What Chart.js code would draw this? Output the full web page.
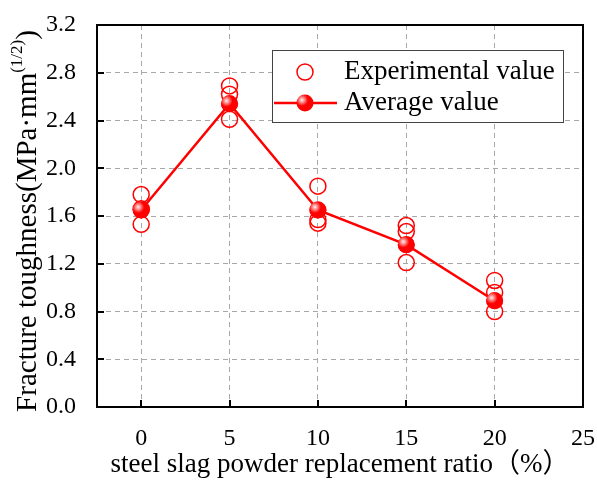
<!DOCTYPE html>
<html>
<head>
<meta charset="utf-8">
<script src="https://cdn.jsdelivr.net/npm/chart.js@4"></script>
<style>
  body { margin: 0; background: #fff; }
  #wrap { width: 597px; height: 480px; }
</style>
</head>
<body>
<div id="wrap"><canvas id="myChart" width="597" height="480"></canvas></div>
<script>
// replacement ratio (%) of steel slag powder
var ratios = [0, 5, 10, 15, 20];
// three specimens per ratio
var trial1 = [1.78, 2.69, 1.85, 1.52, 1.06];
var trial2 = [1.66, 2.62, 1.57, 1.47, 0.96];
var trial3 = [1.53, 2.41, 1.54, 1.21, 0.80];
var averages = [1.65, 2.54, 1.65, 1.36, 0.89];
var yTicks = [0, 0.4, 0.8, 1.2, 1.6, 2.0, 2.4, 2.8, 3.2];
var xTicks = [0, 5, 10, 15, 20, 25];

var serif = "'Liberation Serif', 'Noto Sans CJK SC', serif";
var red = "#ff0000";

var expPoints = [];
ratios.forEach(function(r, i) {
  expPoints.push({ x: r, y: trial1[i] });
  expPoints.push({ x: r, y: trial2[i] });
  expPoints.push({ x: r, y: trial3[i] });
});
var avgPoints = ratios.map(function(r, i) {
  return { x: r, y: averages[i] };
});

function shinyBall(ctx, x, y, r) {
  ctx.save();
  ctx.beginPath();
  ctx.arc(x, y, r, 0, Math.PI * 2);
  ctx.fillStyle = red;
  ctx.fill();
  var g = ctx.createRadialGradient(x - r * 0.35, y - r * 0.35, 0, x - r * 0.35, y - r * 0.35, r * 0.7);
  g.addColorStop(0, "rgba(255,255,255,0.95)");
  g.addColorStop(1, "rgba(255,255,255,0)");
  ctx.fillStyle = g;
  ctx.fill();
  ctx.restore();
}

var framePlugin = {
  id: "frame",
  afterDatasetsDraw: function(chart) {
    var ctx = chart.ctx;
    var meta = chart.getDatasetMeta(1);
    meta.data.forEach(function(pt) {
      shinyBall(ctx, pt.x, pt.y, 8.5);
    });
  },
  afterDraw: function(chart) {
    var ctx = chart.ctx;
    var a = chart.chartArea;
    var xs = chart.scales.x, ys = chart.scales.y;
    ctx.save();
    // box
    ctx.strokeStyle = "#000";
    ctx.lineWidth = 2;
    ctx.strokeRect(a.left, a.top, a.right - a.left, a.bottom - a.top);
    // inward ticks
    ctx.beginPath();
    xTicks.forEach(function(v) {
      var px = Math.round(xs.getPixelForValue(v));
      ctx.moveTo(px, a.bottom);
      ctx.lineTo(px, a.bottom - 7);
    });
    yTicks.forEach(function(v) {
      var py = Math.round(ys.getPixelForValue(v));
      ctx.moveTo(a.left, py);
      ctx.lineTo(a.left + 7, py);
    });
    ctx.stroke();

    // legend
    var lx = 272, ly = 50, lw = 291, lh = 72;
    ctx.fillStyle = "#fff";
    ctx.fillRect(lx, ly, lw, lh);
    ctx.strokeStyle = "#444";
    ctx.lineWidth = 1;
    ctx.strokeRect(lx + 0.5, ly + 0.5, lw, lh);
    ctx.strokeStyle = red;
    ctx.lineWidth = 1.5;
    ctx.beginPath();
    ctx.arc(305, 72, 8, 0, Math.PI * 2);
    ctx.stroke();
    ctx.lineWidth = 2.5;
    ctx.beginPath();
    ctx.moveTo(274, 103);
    ctx.lineTo(337, 103);
    ctx.stroke();
    shinyBall(ctx, 305, 103, 8.5);
    ctx.fillStyle = "#000";
    ctx.font = "27px " + serif;
    ctx.textBaseline = "middle";
    ctx.textAlign = "left";
    ctx.fillText("Experimental value", 344, 72);
    ctx.fillText("Average value", 344, 103);

    // y title with superscript
    var main = "Fracture toughness(MPa\u00b7mm";
    var sup = "(1/2)";
    var close = ")";
    var bigF = "29px " + serif, smallF = "17px " + serif;
    ctx.font = bigF;
    var w1 = ctx.measureText(main).width;
    var w3 = ctx.measureText(close).width;
    ctx.font = smallF;
    var w2 = ctx.measureText(sup).width;
    var total = w1 + w2 + w3;
    ctx.translate(28, 221);
    ctx.rotate(-Math.PI / 2);
    var sx = -total / 2;
    ctx.font = bigF;
    ctx.fillText(main, sx, 0);
    ctx.font = smallF;
    ctx.fillText(sup, sx + w1, -10);
    ctx.font = bigF;
    ctx.fillText(close, sx + w1 + w2, 0);
    ctx.restore();
  }
};

new Chart(document.getElementById("myChart"), {
  type: "scatter",
  data: {
    datasets: [
      {
        label: "Experimental value",
        data: expPoints,
        order: 2,
        showLine: false,
        pointStyle: "circle",
        pointRadius: 8,
        pointHoverRadius: 8,
        pointBorderWidth: 1.5,
        pointBorderColor: red,
        pointBackgroundColor: "rgba(255,255,255,0)"
      },
      {
        label: "Average value",
        data: avgPoints,
        order: 1,
        showLine: true,
        borderColor: red,
        borderWidth: 2.5,
        pointRadius: 8.5,
        pointHoverRadius: 8.5,
        pointBorderWidth: 0,
        pointBackgroundColor: red
      }
    ]
  },
  options: {
    responsive: false,
    animation: false,
    layout: { padding: { top: 25, right: 14, left: 0, bottom: 0 } },
    plugins: {
      legend: { display: false },
      tooltip: { enabled: false }
    },
    scales: {
      x: {
        type: "linear",
        min: -2.5,
        max: 25,
        afterFit: function(s) {
          s.height = 73;
          s.paddingLeft = 0;
          s.paddingRight = 0;
        },
        afterBuildTicks: function(s) {
          s.ticks = xTicks.map(function(v) { return { value: v }; });
        },
        ticks: {
          color: "#000",
          padding: 17,
          maxRotation: 0,
          font: { family: serif, size: 24 }
        },
        grid: { color: "#a8a8a8", lineWidth: 1, drawTicks: false },
        border: { display: false, dash: [5, 4] },
        title: {
          display: true,
          text: "steel slag powder replacement ratio\uff08%\uff09",
          color: "#000",
          padding: { top: 0, bottom: 2 },
          font: { family: serif, size: 27, lineHeight: 1 }
        }
      },
      y: {
        min: 0,
        max: 3.2,
        afterFit: function(s) {
          s.width = 97;
          s.paddingTop = 0;
          s.paddingBottom = 0;
        },
        afterBuildTicks: function(s) {
          s.ticks = yTicks.map(function(v) { return { value: v }; });
        },
        ticks: {
          color: "#000",
          padding: 21,
          font: { family: serif, size: 24 },
          callback: function(v) { return Number(v).toFixed(1); }
        },
        grid: { color: "#a8a8a8", lineWidth: 1, drawTicks: false },
        border: { display: false, dash: [5, 4] }
      }
    }
  },
  plugins: [framePlugin]
});
</script>
</body>
</html>
